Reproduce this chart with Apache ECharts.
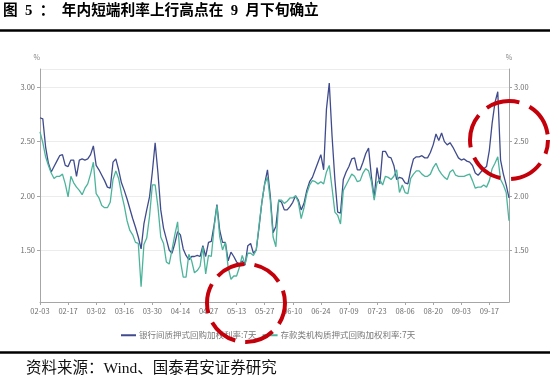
<!DOCTYPE html>
<html>
<head>
<meta charset="utf-8">
<script src="https://cdn.jsdelivr.net/npm/echarts@6/dist/echarts.min.js"></script>
<style>
  html, body { margin: 0; padding: 0; background: #fff; }
  #chart { width: 550px; height: 383px; }
</style>
</head>
<body>
<div id="chart"></div>
<script>
// 交易日（含调休工作日）
const dates = [
  '02-03','02-04','02-05','02-06','02-07','02-10','02-11','02-12','02-13','02-14','02-17','02-18','02-19','02-20','02-21','02-24','02-25','02-26','02-27','02-28',
  '03-02','03-03','03-04','03-05','03-06','03-09','03-10','03-11','03-12','03-13','03-16','03-17','03-18','03-19','03-20','03-23','03-24','03-25','03-26','03-27','03-30','03-31',
  '04-01','04-02','04-03','04-07','04-08','04-09','04-10','04-13','04-14','04-15','04-16','04-17','04-20','04-21','04-22','04-23','04-24','04-26','04-27','04-28','04-29','04-30',
  '05-06','05-07','05-08','05-09','05-11','05-12','05-13','05-14','05-15','05-18','05-19','05-20','05-21','05-22','05-25','05-26','05-27','05-28','05-29',
  '06-01','06-02','06-03','06-04','06-05','06-08','06-09','06-10','06-11','06-12','06-15','06-16','06-17','06-18','06-19','06-22','06-23','06-24','06-28','06-29','06-30',
  '07-01','07-02','07-03','07-06','07-07','07-08','07-09','07-10','07-13','07-14','07-15','07-16','07-17','07-20','07-21','07-22','07-23','07-24','07-27','07-28','07-29','07-30','07-31',
  '08-03','08-04','08-05','08-06','08-07','08-10','08-11','08-12','08-13','08-14','08-17','08-18','08-19','08-20','08-21','08-24','08-25','08-26','08-27','08-28','08-31',
  '09-01','09-02','09-03','09-04','09-07','09-08','09-09','09-10','09-11','09-14','09-15','09-16','09-17','09-18','09-21','09-22','09-23','09-24','09-25','09-27'
];

// 银行间质押式回购加权利率:7天
const interbankRepo = [
  2.72, 2.71, 2.45, 2.30, 2.22, 2.27, 2.32, 2.37, 2.38, 2.28, 2.27, 2.33, 2.33,
  2.18, 2.33, 2.34, 2.33, 2.34, 2.38, 2.46, 2.28, 2.24, 2.19, 2.14, 2.08, 2.07, 2.31, 2.34, 2.24, 2.12, 2.05, 1.97, 1.88,
  1.79, 1.71, 1.62, 1.51, 1.74, 1.87, 1.99, 2.22, 2.49, 2.21, 1.87, 1.70, 1.60, 1.50, 1.47, 1.56, 1.67, 1.64, 1.51, 1.45,
  1.41, 1.44, 1.44, 1.45, 1.44, 1.54, 1.44, 1.57, 1.58, 1.73, 1.92, 1.68, 1.57, 1.57, 1.40, 1.48, 1.44, 1.39, 1.37, 1.40, 1.36,
  1.54, 1.56, 1.47, 1.50, 1.71, 1.94, 2.11, 2.24, 2.00, 1.66, 1.72, 1.96, 1.94, 1.87, 1.87, 1.90, 1.94, 2.00, 1.96, 1.87,
  1.93, 2.05, 2.13, 2.17, 2.24, 2.31, 2.38, 2.24, 2.80, 3.04, 2.55, 2.15, 1.85, 1.84, 2.15, 2.22, 2.27, 2.34, 2.35, 2.24,
  2.24, 2.31, 2.39, 2.44, 2.18, 1.98, 2.26, 2.11, 2.41, 2.41, 2.36, 2.35, 2.28, 2.15, 2.17, 2.16, 2.12, 2.11, 2.24, 2.34, 2.36, 2.36,
  2.37, 2.35, 2.35, 2.40, 2.47, 2.57, 2.51, 2.58, 2.50, 2.47, 2.49, 2.45, 2.40, 2.35, 2.33, 2.34, 2.32, 2.31, 2.28, 2.21,
  2.19, 2.22, 2.25, 2.27, 2.42, 2.67, 2.86, 2.96, 2.33, 2.20, 2.10, 1.98
];

// 存款类机构质押式回购加权利率:7天
const depositoryRepo = [
  2.59, 2.49, 2.36, 2.28, 2.21, 2.16, 2.18, 2.18, 2.20, 2.11, 1.99, 2.18, 2.12,
  2.08, 2.05, 2.01, 2.07, 2.11, 2.20, 2.31, 2.02, 1.98, 1.91, 1.89, 1.89, 1.94, 2.15, 2.23, 2.16, 2.02, 1.91, 1.77, 1.68,
  1.64, 1.57, 1.56, 1.16, 1.55, 1.61, 1.81, 2.10, 2.10, 1.90, 1.62, 1.56, 1.39, 1.37, 1.50, 1.64, 1.76, 1.40, 1.25, 1.25,
  1.46, 1.40, 1.29, 1.31, 1.35, 1.53, 1.28, 1.45, 1.44, 1.71, 1.91, 1.62, 1.50, 1.57, 1.34, 1.23, 1.26, 1.26, 1.34, 1.45, 1.37,
  1.47, 1.47, 1.45, 1.50, 1.73, 1.94, 2.11, 2.17, 1.96, 1.62, 1.53, 1.96, 1.96, 1.93, 1.95, 1.98, 1.98, 2.00, 1.94, 1.79,
  1.89, 2.02, 2.10, 2.14, 2.13, 2.11, 2.13, 2.11, 2.22, 2.28, 2.07, 1.85, 1.82, 1.74, 2.05, 2.10, 2.15, 2.20, 2.18, 2.13,
  2.14, 2.21, 2.25, 2.23, 2.13, 1.96, 2.12, 2.15, 2.10, 2.18, 2.17, 2.15, 2.18, 2.24, 2.03, 2.10, 2.03, 2.02, 2.16, 2.20, 2.23, 2.23,
  2.20, 2.18, 2.18, 2.20, 2.26, 2.30, 2.24, 2.20, 2.17, 2.15, 2.22, 2.24, 2.19, 2.18, 2.18, 2.18, 2.19, 2.20, 2.14, 2.07,
  2.08, 2.08, 2.10, 2.08, 2.14, 2.25, 2.30, 2.36, 2.15, 2.10, 2.03, 1.77
];

const seriesNames = ['银行间质押式回购加权利率:7天', '存款类机构质押式回购加权利率:7天'];
const yMin = 1.02;
const yMax = 3.17;

const chart = echarts.init(document.getElementById('chart'), null, { renderer: 'canvas' });

const axisColor = '#a6a6a6';
const labelColor = '#6e6e6e';
const cjk = "'Noto Sans CJK SC', sans-serif";
const mixed = "'Liberation Serif', 'Noto Sans CJK SC', serif";
const red = '#c4000b';

const valueAxis = (pos) => ({
  type: 'value',
  position: pos,
  min: yMin,
  max: yMax,
  name: '%',
  nameGap: 8,
  nameTextStyle: {
    color: '#888', fontSize: 7, fontFamily: cjk,
    align: pos === 'left' ? 'right' : 'center'
  },
  axisLine: { show: true, lineStyle: { color: axisColor } },
  axisTick: { show: true, length: 3, lineStyle: { color: axisColor } },
  axisLabel: {
    color: labelColor,
    fontSize: 7.5,
    fontFamily: cjk,
    margin: 5,
    showMinLabel: false,
    showMaxLabel: false,
    formatter: v => v.toFixed(2)
  },
  splitLine: { show: pos === 'left', lineStyle: { color: '#ececec' } }
});

const option = {
  animation: false,
  backgroundColor: '#fff',
  color: ['#3f4b8c', '#4cb49b'],
  grid: { left: 40, right: 41, top: 69, bottom: 81, containLabel: false, outerBoundsMode: 'none' },
  legend: {
    left: 116,
    top: 326,
    icon: 'rect',
    itemWidth: 15,
    itemHeight: 2,
    itemGap: 6,
    textStyle: { color: '#777', fontSize: 8.5, fontFamily: cjk, padding: [0, 0, 0, -2] },
    data: seriesNames
  },
  xAxis: {
    type: 'category',
    data: dates,
    boundaryGap: false,
    axisLine: { lineStyle: { color: axisColor } },
    axisTick: { interval: 9, length: 3, lineStyle: { color: axisColor } },
    axisLabel: { interval: 9, color: labelColor, fontSize: 7.5, fontFamily: cjk, margin: 5 }
  },
  yAxis: [valueAxis('left'), valueAxis('right')],
  series: [
    {
      name: seriesNames[0],
      type: 'line',
      data: interbankRepo,
      showSymbol: false,
      symbol: 'none',
      lineStyle: { width: 1.3 }
    },
    {
      name: seriesNames[1],
      type: 'line',
      data: depositoryRepo,
      showSymbol: false,
      symbol: 'none',
      lineStyle: { width: 1.3 }
    }
  ],
  graphic: [
    {
      type: 'text', left: 3, top: 4,
      style: { text: '图\u20025\u2002：\u2002年内短端利率上行高点在\u20029\u2002月下旬确立', font: 'bold 14.7px ' + mixed, fill: '#000' }
    },
    { type: 'line', shape: { x1: 0, y1: 30.5, x2: 550, y2: 30.5 }, style: { stroke: '#000', lineWidth: 2.5 } },
    { type: 'line', shape: { x1: 0, y1: 352.5, x2: 550, y2: 352.5 }, style: { stroke: '#000', lineWidth: 2.5 } },
    {
      type: 'text', left: 26, top: 361,
      style: { text: '资料来源：Wind、国泰君安证券研究', font: '15.5px ' + mixed, fill: '#111' }
    },
    // 红色虚线圈注
    {
      type: 'circle', z: 100, shape: { cx: 246, cy: 303, r: 39 },
      style: { fill: 'none', stroke: red, lineWidth: 4, lineDash: [30, 10], lineDashOffset: 8 }
    },
    {
      type: 'circle', z: 100, shape: { cx: 509, cy: 140, r: 39 },
      style: { fill: 'none', stroke: red, lineWidth: 4, lineDash: [34, 11], lineDashOffset: 20 }
    }
  ]
};

chart.setOption(option);
</script>
</body>
</html>
